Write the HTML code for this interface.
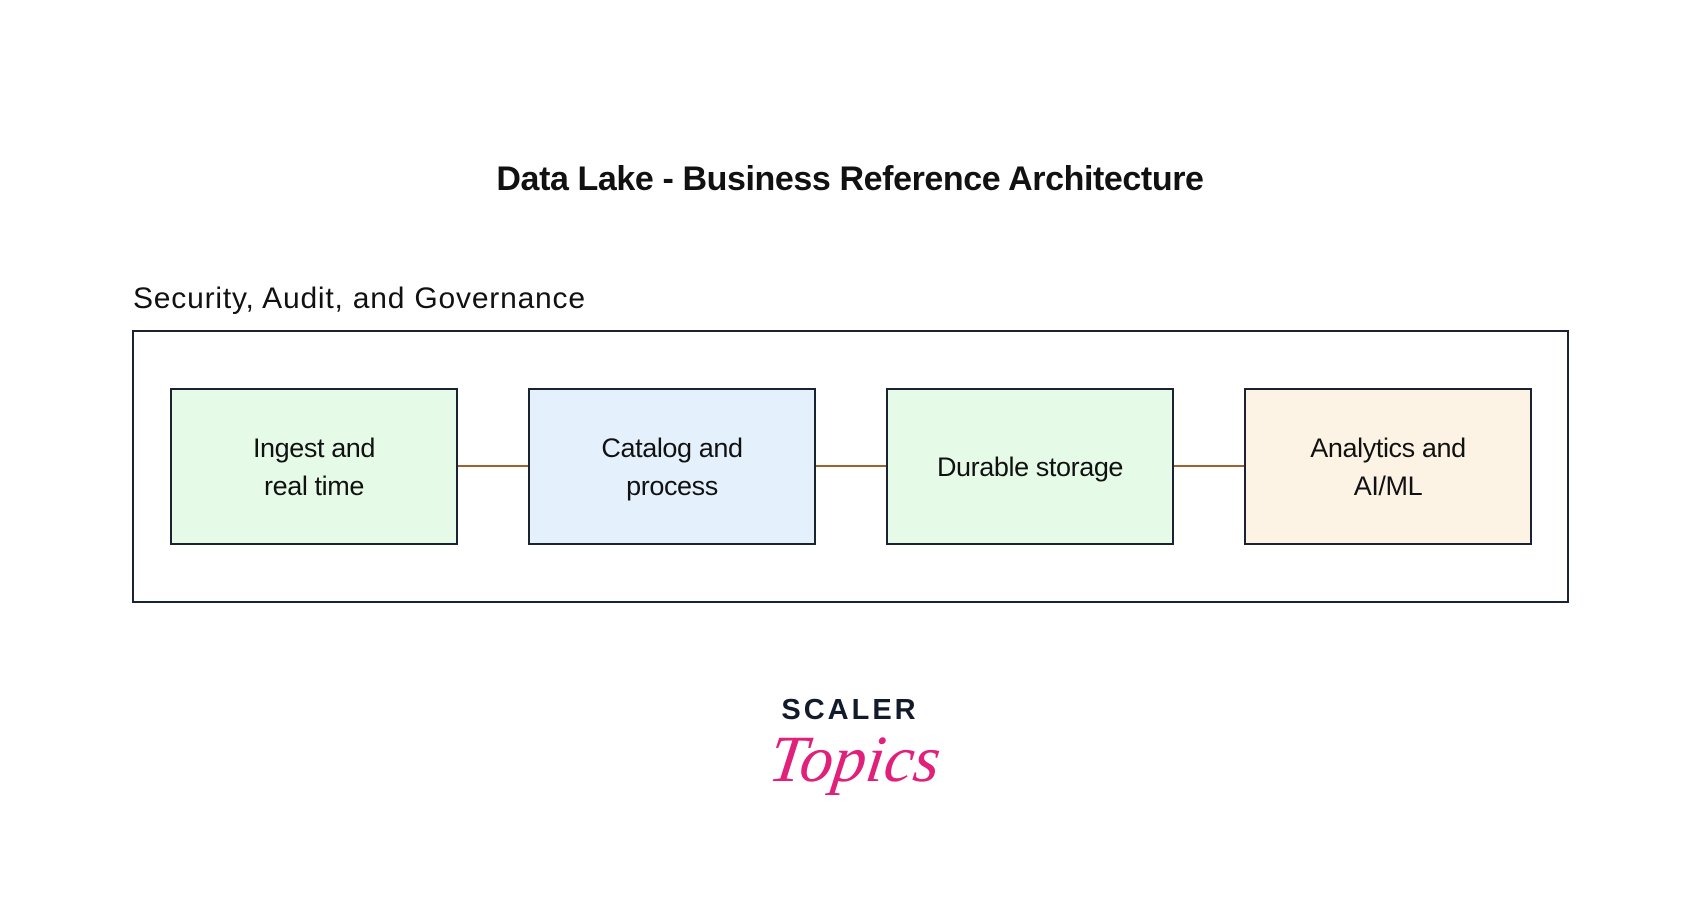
<!DOCTYPE html>
<html><head><meta charset="utf-8"><style>
html,body{margin:0;padding:0;background:#fff;}
body{width:1700px;height:908px;position:relative;overflow:hidden;font-family:"Liberation Sans",sans-serif;color:#111;}
.title{position:absolute;left:0;width:1700px;top:160px;text-align:center;font-weight:bold;font-size:34px;letter-spacing:-0.4px;}
.lab{position:absolute;left:133px;top:282px;font-size:30px;letter-spacing:0.8px;}
.outer{position:absolute;left:132px;top:330px;width:1433px;height:269px;border:2px solid #1b2333;}
.box{position:absolute;top:388px;width:284px;height:153px;border:2px solid #1b2333;display:flex;align-items:center;justify-content:center;text-align:center;font-size:27px;line-height:38px;letter-spacing:-0.4px;}
.ln{position:absolute;top:465px;height:2px;background:#a0622a;}
</style></head><body>
<div class="title">Data Lake - Business Reference Architecture</div>
<div class="lab">Security, Audit, and Governance</div>
<div class="outer"></div>
<div class="box" style="left:170px;background:#e6fbe7">Ingest and<br>real time</div>
<div class="box" style="left:528px;background:#e4f1fd">Catalog and<br>process</div>
<div class="box" style="left:886px;background:#e6fbe7">Durable storage</div>
<div class="box" style="left:1244px;background:#fdf3e5">Analytics and<br>AI/ML</div>
<div class="ln" style="left:458px;width:70px"></div>
<div class="ln" style="left:816px;width:70px"></div>
<div class="ln" style="left:1174px;width:70px"></div>
<div style="position:absolute;left:780px;top:694px;width:140px;text-align:center;font-weight:bold;font-size:29px;letter-spacing:3px;color:#131a2b">SCALER</div>
<div style="position:absolute;left:770px;top:722px;width:160px;text-align:center;font-family:'Liberation Serif',serif;font-style:italic;font-size:66px;color:#e0207a;transform:skewX(-8deg)">Topics</div>
</body></html>
